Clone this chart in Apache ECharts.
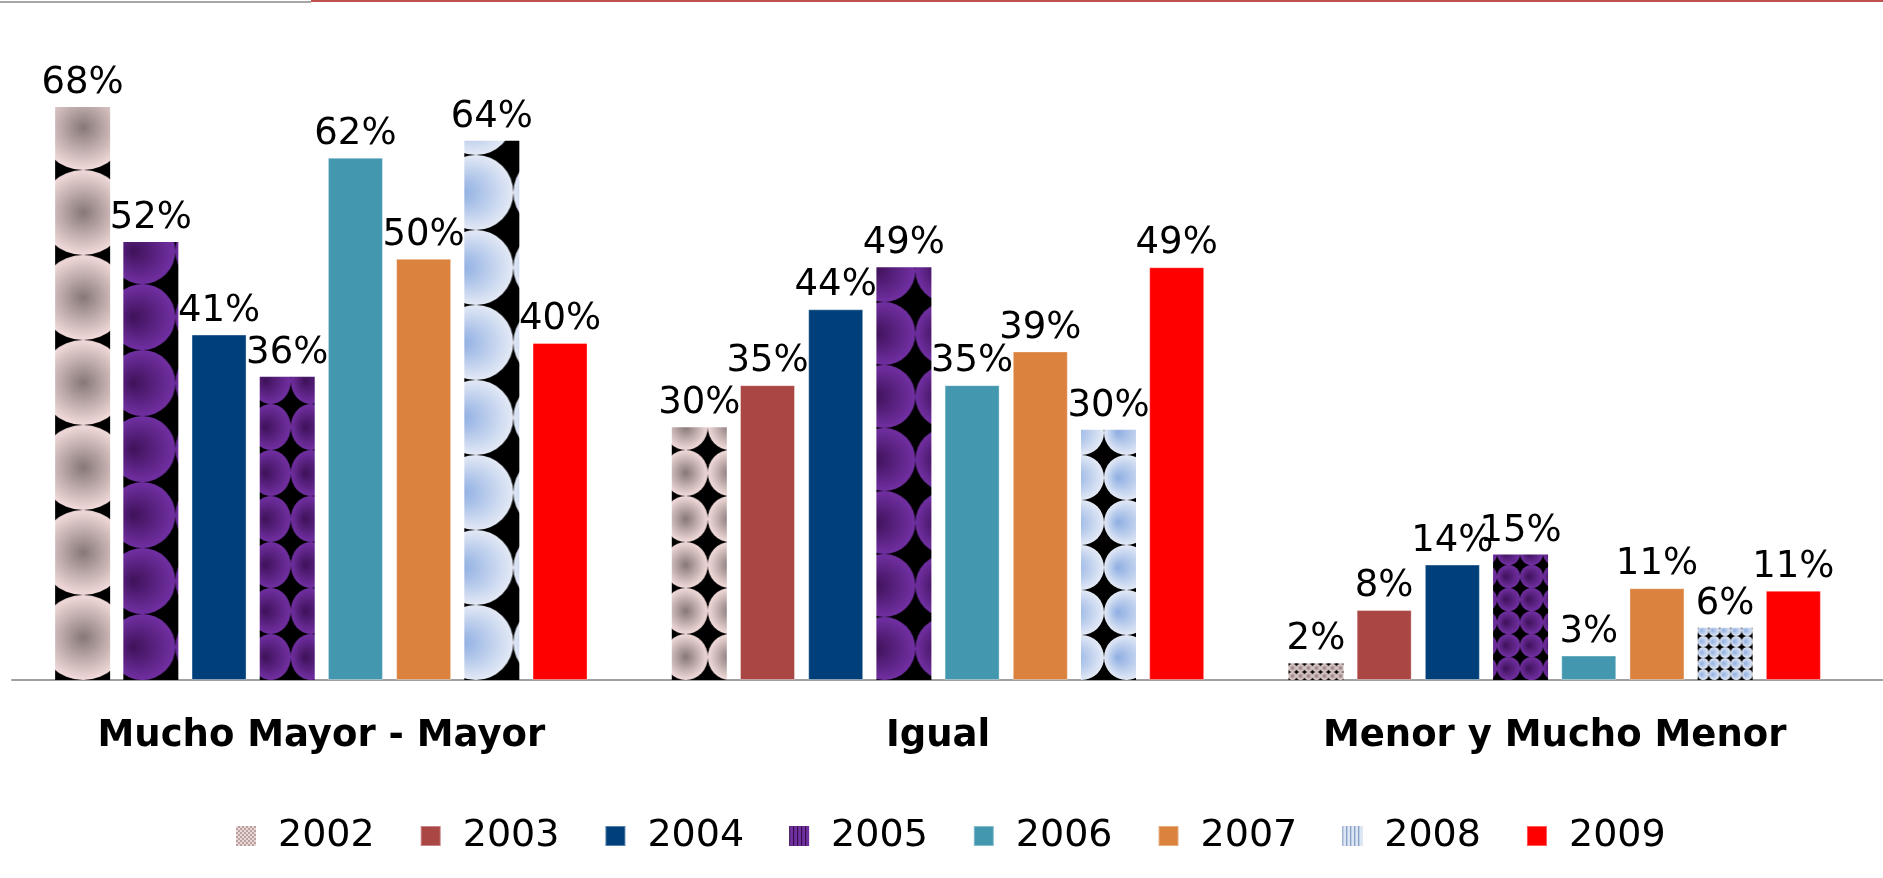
<!DOCTYPE html>
<html>
<head>
<meta charset="utf-8">
<script src="https://cdn.jsdelivr.net/npm/echarts@6/dist/echarts.min.js"></script>
<style>
html,body{margin:0;padding:0;background:#fff;}
#c{width:1883px;height:878px;}
</style>
</head>
<body>
<div id="c"></div>
<script>
// ---- data ----
const categories = ['Mucho Mayor - Mayor', 'Igual', 'Menor y Mucho Menor'];
const years = ['2002', '2003', '2004', '2005', '2006', '2007', '2008', '2009'];
const v2002 = [0.68, 0.30, 0.02];
const v2003 = [0.52, 0.35, 0.083];
const v2004 = [0.41, 0.44, 0.137];
const v2005 = [0.36, 0.49, 0.149];
const v2006 = [0.62, 0.35, 0.029];
const v2007 = [0.50, 0.39, 0.109];
const v2008 = [0.64, 0.297, 0.062];
const v2009 = [0.40, 0.49, 0.106];
const values = [v2002, v2003, v2004, v2005, v2006, v2007, v2008, v2009];

// ---- styles ----
const solid = {'2003': '#AA4644', '2004': '#00407A', '2006': '#4398B0', '2007': '#DB823F', '2009': '#FF0000'};
const tones = {
  pink: ['#877878', '#f3dcdb', 0],
  purple: ['#3f125a', '#7230a3', -0.3],
  blue: ['#8eaee2', '#e4eaf6', -0.4]
};
// per bar pattern: [tone, tileW, tileH, phaseX (tile edge relative to bar left)]
const patternSpec = {
  '2002': [['pink', 88, 85, -16], ['pink', 44, 46, -8], ['pink', 8, 8, 0]],
  '2003': [['purple', 66, 66, -14], null, null],
  '2005': [['purple', 40, 46, -9], ['purple', 62, 63, -23], ['purple', 23, 23, 4]],
  '2008': [['blue', 75, 75, -26], ['blue', 45, 45, -22], ['blue', 11, 11, 0]]
};

function circleTile(tone, w, h) {
  const c = document.createElement('canvas');
  c.width = w; c.height = h;
  const ctx = c.getContext('2d');
  ctx.fillStyle = '#000';
  ctx.fillRect(0, 0, w, h);
  ctx.save();
  ctx.translate(w / 2, h / 2);
  ctx.scale(w / 2, h / 2);
  const g = ctx.createRadialGradient(tones[tone][2], 0, 0, 0, 0, 1);
  g.addColorStop(0, tones[tone][0]);
  g.addColorStop(1, tones[tone][1]);
  ctx.fillStyle = g;
  ctx.beginPath();
  ctx.arc(0, 0, 1, 0, Math.PI * 2);
  ctx.fill();
  ctx.restore();
  return c;
}
function legendTile(kind) {
  const c = document.createElement('canvas');
  const ctx = c.getContext('2d');
  c.width = 4; c.height = 4;
  if (kind === '2002') {
    ctx.fillStyle = '#b8a3a3'; ctx.fillRect(0, 0, 4, 4);
    ctx.fillStyle = '#ecd6d6'; ctx.fillRect(0, 0, 2, 2); ctx.fillRect(2, 2, 2, 2);
  } else if (kind === '2005') {
    ctx.fillStyle = '#7030a0'; ctx.fillRect(0, 0, 4, 4);
    ctx.fillStyle = '#2d0a45'; ctx.fillRect(0, 0, 1, 4);
  } else {
    ctx.fillStyle = '#dce6f5'; ctx.fillRect(0, 0, 4, 4);
    ctx.fillStyle = '#6b86b8'; ctx.fillRect(0, 0, 1, 4);
  }
  return c;
}

const tileCache = {};
function tile(tone, w, h) {
  const k = tone + w + 'x' + h;
  if (!tileCache[k]) tileCache[k] = circleTile(tone, w, h);
  return tileCache[k];
}

const chart = echarts.init(document.getElementById('c'), null, {renderer: 'canvas'});
const FONT = 'DejaVu Sans';

function build(layouts) {
  const series = years.map((y, i) => {
    const data = values[i].map((v, j) => {
      const item = {value: v};
      const spec = patternSpec[y] && patternSpec[y][j];
      if (spec) {
        const pat = {image: tile(spec[0], spec[1], spec[2]), repeat: 'repeat'};
        if (layouts) {
          const L = layouts[i][j];
          pat.x = Math.min(L.x, L.x + L.width) + spec[3];
          pat.y = Math.max(L.y, L.y + L.height);
        }
        item.itemStyle = {color: pat, borderWidth: 0};
      }
      return item;
    });
    return {
      name: y,
      type: 'bar',
      barWidth: 55,
      barGap: '24%',
      data: data,
      itemStyle: {
        color: solid[y] || '#999',
        borderColor: solid[y] ? 'rgba(255,255,255,0.35)' : 'transparent',
        borderWidth: solid[y] ? 1 : 0
      },
      label: {
        show: true,
        position: 'top',
        distance: 5,
        color: '#000',
        fontFamily: FONT,
        fontSize: 37,
        formatter: p => Math.round(p.value * 100) + '%'
      }
    };
  });
  const legendData = years.map(y => {
    const d = {name: y};
    if (!solid[y]) d.itemStyle = {color: {image: legendTile(y), repeat: 'repeat'}};
    return d;
  });
  return {
    animation: false,
    backgroundColor: '#fff',
    graphic: [
      {type: 'rect', shape: {x: 0, y: 1, width: 311, height: 2}, style: {fill: '#a6a6a6'}},
      {type: 'rect', shape: {x: 311, y: 0, width: 1572, height: 2}, style: {fill: '#c0504d'}}
    ],
    legend: {
      data: legendData,
      left: 231,
      top: 812,
      icon: 'rect',
      itemWidth: 20,
      itemHeight: 20,
      itemGap: 45,
      textStyle: {fontFamily: FONT, fontSize: 38, color: '#000', padding: [0, 0, 0, 17]}
    },
    grid: [
      {left: 13, right: 20, top: 6, bottom: 198, containLabel: false},
      {left: 12, right: 0, top: 6, bottom: 198, containLabel: false}
    ],
    xAxis: [
      {
        type: 'category', gridIndex: 0, data: categories,
        axisLine: {show: false}, axisTick: {show: false},
        axisLabel: {margin: 38, fontFamily: FONT, fontWeight: 'bold', fontSize: 37, color: '#000'}
      },
      {
        type: 'value', gridIndex: 1, min: 0, max: 1,
        axisLine: {show: true, onZero: false, lineStyle: {color: '#a0a0a0', width: 2}},
        axisTick: {show: false}, axisLabel: {show: false}, splitLine: {show: false}
      }
    ],
    yAxis: [
      {type: 'value', gridIndex: 0, min: 0, max: 0.8, show: false, splitLine: {show: false}},
      {type: 'value', gridIndex: 1, min: 0, max: 1, show: false, splitLine: {show: false}}
    ],
    series: series
  };
}

chart.setOption(build(null));
const layouts = years.map((y, i) => {
  const d = chart.getModel().getSeriesByIndex(i).getData();
  return values[i].map((v, j) => d.getItemLayout(j));
});
chart.setOption(build(layouts));
</script>
</body>
</html>
